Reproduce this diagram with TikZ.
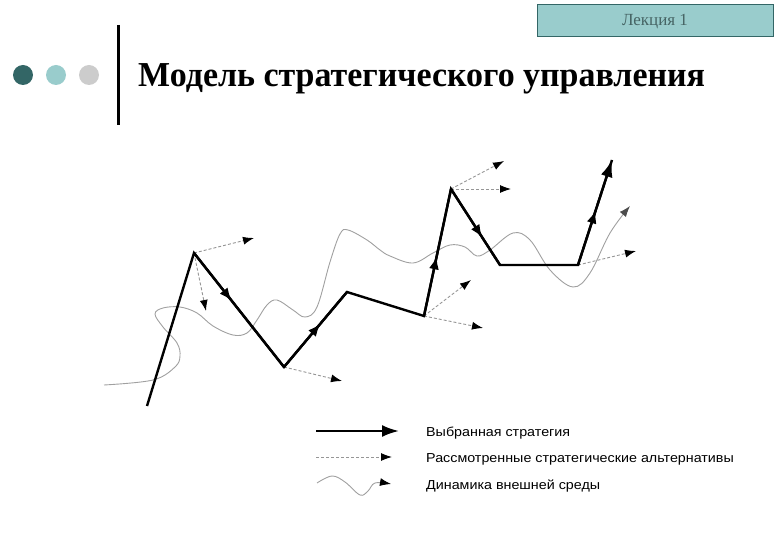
\documentclass[tikz,border=0pt]{standalone}
\usepackage{fontspec}
\setmainfont{Liberation Serif}
\newfontfamily\legfont{Liberation Sans}
\usetikzlibrary{arrows.meta,decorations.markings}
\definecolor{darkteal}{RGB}{51,102,102}
\definecolor{lightteal}{RGB}{153,204,204}
\definecolor{dotgray}{RGB}{204,204,204}
\definecolor{altgray}{RGB}{150,150,150}
\definecolor{wavegray}{RGB}{160,160,160}
\definecolor{hdrtext}{RGB}{70,100,100}
\begin{document}
\begin{tikzpicture}[x=1pt,y=-1pt,
  chosen/.style={line width=2.4pt, line join=miter},
  alt/.style={altgray, line width=0.9pt, dash pattern=on 3pt off 2pt, -{Latex[length=11pt,width=8pt,black]}},
  wave/.style={wavegray, line width=0.9pt},
  midarrow/.style={postaction={decorate}, decoration={markings, mark=at position #1 with {\arrow{Latex[length=13pt,width=10pt]}}}},
  leg/.style={anchor=base west, font=\legfont\fontsize{13}{15}\selectfont, inner sep=0pt},
  dot/.style={circle, minimum size=20pt, inner sep=0pt},
]
\useasboundingbox (0,0) rectangle (780,540);
% header
\node[draw=darkteal, line width=1pt, fill=lightteal, minimum width=236pt, minimum height=32pt, inner sep=0pt] (hdr) at (655,21) {};
\node[text=hdrtext, font=\fontsize{17}{19}\selectfont] (hdrtxt) at (655,22) {Лекция 1};
\node[dot, fill=darkteal] (d1) at (23,75) {};
\node[dot, fill=lightteal] (d2) at (56,75) {};
\node[dot, fill=dotgray] (d3) at (89,75) {};
\coordinate (vt) at (118,25);
\coordinate (vb) at (118,125);
\draw[line width=3pt] (vt) -- (vb);
\node[anchor=base west, inner sep=0pt, font=\fontsize{35}{40}\selectfont\bfseries] (title) at (138,87) {\scalebox{0.97}[1]{Модель стратегического управления}};
% main path points
\coordinate (p0) at (147,406);
\coordinate (p1) at (194,253);
\coordinate (p2) at (284,367);
\coordinate (p3) at (347,292);
\coordinate (p4) at (424,316);
\coordinate (p5) at (451,189);
\coordinate (p6) at (500,265);
\coordinate (p7) at (578,265);
\coordinate (p8) at (612,160);
% wave
\draw[wave, -{Latex[length=11pt,width=8pt,black!70]}] plot[smooth, tension=0.6] coordinates {
 (104,385) (153,380) (175,367) (180,356) (177,343) (163,327) (155,314) (163,308) (180,307)
 (197,313) (213,326) (233,335) (247,333) (257,320) (267,305) (277,300) (293,310) (305,317)
 (317,307) (330,262) (340,234) (348,230) (367,240) (380,250) (390,256) (413,263) (433,253)
 (450,245) (465,247) (477,256) (490,250) (513,233) (530,240) (550,270) (573,287) (590,273)
 (610,233) (630,206)};
% alternatives
\coordinate (a1) at (254,238);
\coordinate (a2) at (206,311);
\coordinate (a3) at (342,381);
\coordinate (a4) at (471,280);
\coordinate (a5) at (483,328);
\coordinate (a6) at (504,161);
\coordinate (a7) at (511,189);
\coordinate (a8) at (636,251);
\draw[alt] (p1) -- (a1);
\draw[alt] (p1) -- (a2);
\draw[alt] (p2) -- (a3);
\draw[alt] (p4) -- (a4);
\draw[alt] (p4) -- (a5);
\draw[alt] (p5) -- (a6);
\draw[alt] (p5) -- (a7);
\draw[alt] (p7) -- (a8);
% chosen strategy
\draw[chosen, -{Latex[length=17pt,width=12pt]}] (p0) -- (p1) -- (p2) -- (p3) -- (p4) -- (p5) -- (p6) -- (p7) -- (p8);
\draw[chosen, midarrow=0.42] (p1) -- (p2);
\draw[chosen, midarrow=0.58] (p2) -- (p3);
\draw[chosen, midarrow=0.47] (p4) -- (p5);
\draw[chosen, midarrow=0.64] (p5) -- (p6);
\draw[chosen, midarrow=0.52] (p7) -- (p8);
% legend
\coordinate (l1a) at (316,431);
\coordinate (l1b) at (399,431);
\draw[chosen, -{Latex[length=17pt,width=12pt]}] (l1a) -- (l1b);
\node[leg] (t1) at (426,436) {\scalebox{1.1}[1]{Выбранная стратегия}};
\coordinate (l2a) at (316,457);
\coordinate (l2b) at (392,457);
\draw[alt] (l2a) -- (l2b);
\node[leg] (t2) at (426,462) {\scalebox{1.1}[1]{Рассмотренные стратегические альтернативы}};
\coordinate (l3b) at (391,484);
\draw[wave, -{Latex[length=11pt,width=8pt,black]}] plot[smooth, tension=0.6] coordinates {(317,483) (332,476) (345,482) (360,495) (368,491) (375,483) (391,484)};
\node[leg] (t3) at (426,489) {\scalebox{1.1}[1]{Динамика внешней среды}};
\end{tikzpicture}
\end{document}
